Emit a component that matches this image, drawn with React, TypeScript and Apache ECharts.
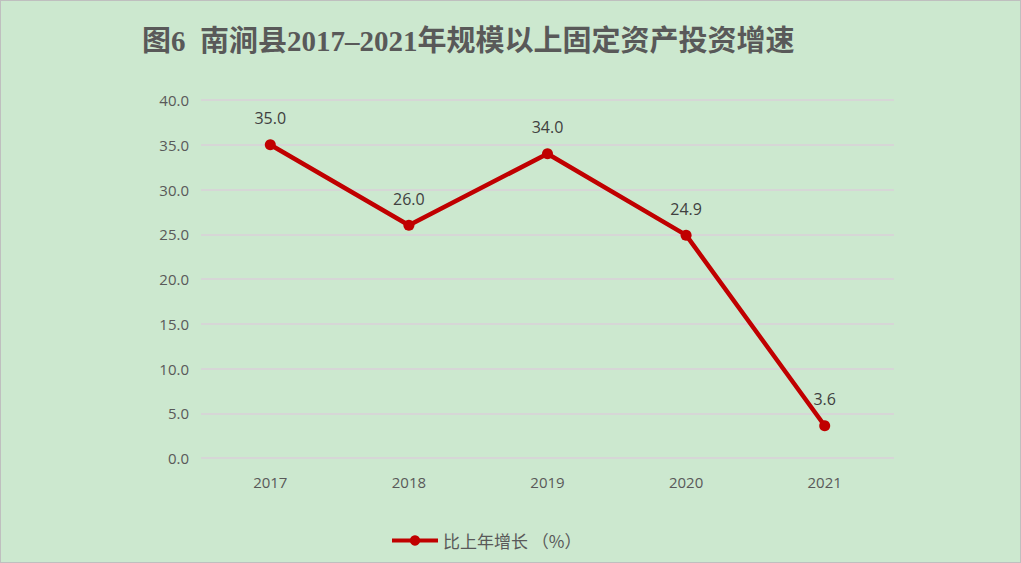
import React, { useEffect, useRef } from "react";
import * as echarts from "echarts";

const categories = ["2017", "2018", "2019", "2020", "2021"];
const growth = [35.0, 26.0, 34.0, 24.9, 3.6];
const seriesName = "比上年增长 （%）";
const titleText = "图6  南涧县2017–2021年规模以上固定资产投资增速";

export default function App() {
  const ref = useRef<HTMLDivElement>(null);
  useEffect(() => {
    document.body.style.margin = "0";
    const chart = echarts.init(ref.current!, null, { renderer: "svg" });
    chart.setOption({
      animation: false,
      backgroundColor: "#CCE8CF",
      title: {
        text: titleText,
        left: 136,
        top: 20,
        textStyle: {
          fontFamily: "'Liberation Serif', 'Noto Sans CJK SC', serif",
          fontWeight: "bold",
          fontSize: 29,
          color: "#595959",
        },
      },
      legend: {
        bottom: 8,
        left: 384,
        itemWidth: 46,
        itemHeight: 13,
        itemGap: 6,
        lineStyle: { width: 4, color: "#C00000" },
        textStyle: {
          fontFamily: "'Noto Sans CJK SC', sans-serif",
          fontSize: 17,
          color: "#595959",
        },
        data: [seriesName],
      },
      grid: { left: 200, right: 126, top: 99, bottom: 104 },
      xAxis: {
        type: "category",
        data: categories,
        axisLine: { show: false },
        axisTick: { show: false },
        axisLabel: {
          margin: 16,
          fontFamily: "'Open Sans', sans-serif",
          fontSize: 15,
          color: "#595959",
        },
      },
      yAxis: {
        type: "value",
        min: 0,
        max: 40,
        interval: 5,
        axisLine: { show: false },
        axisTick: { show: false },
        axisLabel: {
          margin: 12,
          formatter: (v: number) => v.toFixed(1),
          fontFamily: "'Open Sans', sans-serif",
          fontSize: 15,
          color: "#595959",
        },
        splitLine: { lineStyle: { color: "#D6D6D6", width: 1.8 } },
      },
      series: [
        {
          name: seriesName,
          type: "line",
          data: growth,
          symbol: "circle",
          symbolSize: 11,
          lineStyle: { color: "#C00000", width: 4.5 },
          itemStyle: { color: "#C00000" },
          label: {
            show: true,
            position: "top",
            distance: 13,
            formatter: (p: any) => Number(p.value).toFixed(1),
            fontFamily: "'Open Sans', sans-serif",
            fontSize: 16,
            color: "#404040",
          },
        },
      ],
    });
    return () => chart.dispose();
  }, []);
  return (
    <div
      style={{
        width: 1021,
        height: 563,
        boxSizing: "border-box",
        border: "1px solid #BFBFBF",
      }}
    >
      <div ref={ref} style={{ width: 1019, height: 561 }} />
    </div>
  );
}
